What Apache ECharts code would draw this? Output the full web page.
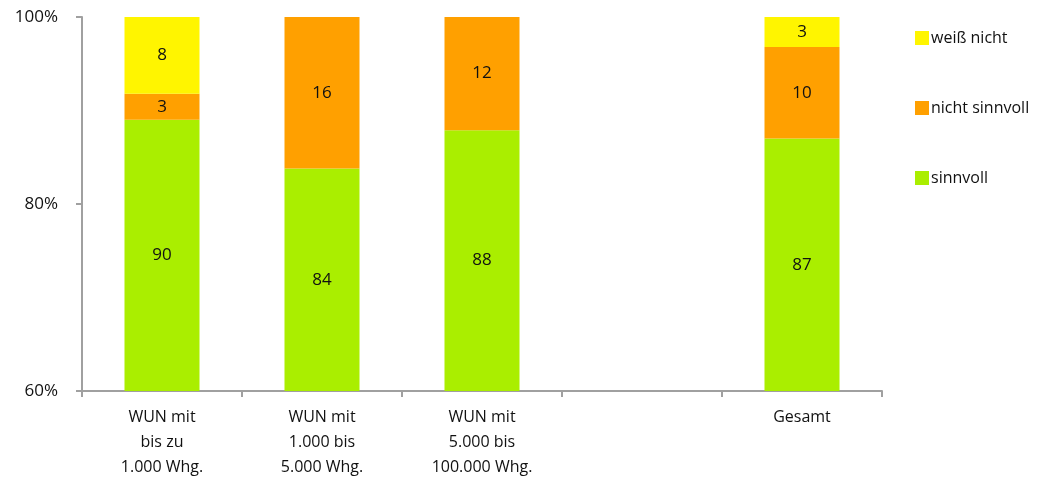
<!DOCTYPE html>
<html>
<head>
<meta charset="utf-8">
<script src="https://cdn.jsdelivr.net/npm/echarts@6/dist/echarts.min.js"></script>
<style>
html,body{margin:0;padding:0;background:#fff;}
#chart{width:1050px;height:480px;}
</style>
</head>
<body>
<div id="chart"></div>
<script>
var categories = ['WUN mit\nbis zu\n1.000 Whg.', 'WUN mit\n1.000 bis\n5.000 Whg.', 'WUN mit\n5.000 bis\n100.000 Whg.', '', 'Gesamt'];
var sinnvoll = [89.0, 83.8, 87.9, null, 87.0];
var nichtSinnvoll = [2.8, 16.2, 12.1, null, 9.8];
var weissNicht = [8.2, null, null, null, 3.2];
var sinnvollLabels = [90, 84, 88, null, 87];
var nichtSinnvollLabels = [3, 16, 12, null, 10];
var weissNichtLabels = [8, null, null, null, 3];
var yTicks = [60, 80, 100];

var FONT = '"Open Sans", "Noto Sans", sans-serif';
var chart = echarts.init(document.getElementById('chart'));

function mkSeries(name, data, labels, color) {
  return {
    name: name,
    type: 'bar',
    stack: 'total',
    barWidth: 75,
    data: data,
    itemStyle: { color: color },
    label: {
      show: true,
      position: 'inside',
      fontFamily: FONT,
      fontSize: 17,
      color: '#111',
      formatter: function (p) { return labels[p.dataIndex] == null ? '' : String(labels[p.dataIndex]); }
    }
  };
}

chart.setOption({
  animation: false,
  backgroundColor: '#fff',
  grid: { left: 82, right: 168, top: 17, bottom: 89 },
  legend: {
    orient: 'vertical',
    left: 910,
    top: 25,
    itemWidth: 14,
    itemHeight: 14,
    itemGap: 54,
    icon: 'rect',
    data: ['weiß nicht', 'nicht sinnvoll', 'sinnvoll'],
    textStyle: { fontFamily: FONT, fontSize: 16, color: '#111', padding: [0, 0, 0, -3] }
  },
  xAxis: {
    type: 'category',
    data: categories,
    axisLine: { lineStyle: { color: '#A0A0A0', width: 2 } },
    axisTick: { show: true, alignWithLabel: false, length: 6, lineStyle: { color: '#A0A0A0', width: 2 } },
    axisLabel: { fontFamily: FONT, fontSize: 16, color: '#111', lineHeight: 25, margin: 14, interval: 0 }
  },
  yAxis: {
    type: 'value',
    min: 60,
    max: 100,
    interval: 20,
    axisLine: { show: true, lineStyle: { color: '#A0A0A0', width: 2 } },
    axisTick: { show: true, length: 6, lineStyle: { color: '#A0A0A0', width: 2 } },
    splitLine: { show: false },
    axisLabel: {
      fontFamily: FONT, fontSize: 17, color: '#111', margin: 24,
      formatter: function (v) { return yTicks.indexOf(v) >= 0 ? v + '%' : ''; }
    }
  },
  series: [
    mkSeries('sinnvoll', sinnvoll, sinnvollLabels, '#AAEE00'),
    mkSeries('nicht sinnvoll', nichtSinnvoll, nichtSinnvollLabels, '#FFA000'),
    mkSeries('weiß nicht', weissNicht, weissNichtLabels, '#FFF500')
  ]
});
</script>
</body>
</html>
